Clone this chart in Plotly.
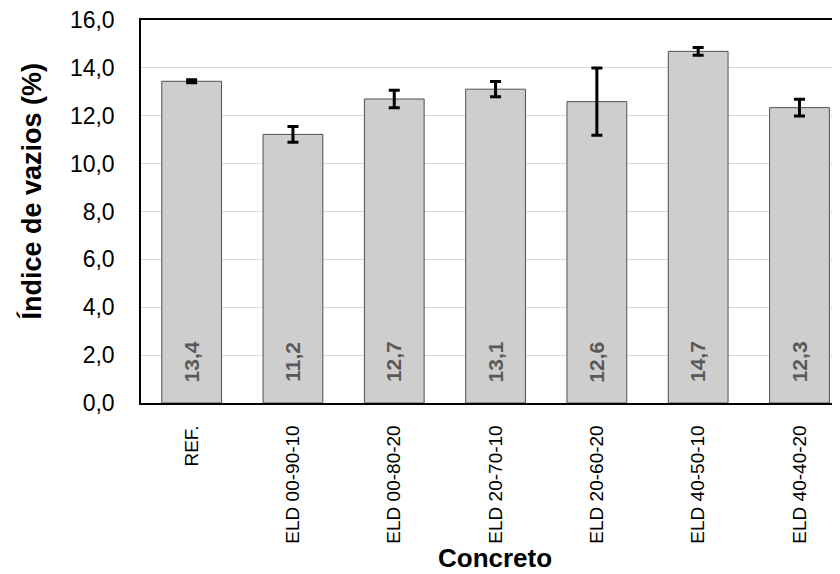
import plotly.graph_objects as go

categories = ["REF.", "ELD 00-90-10", "ELD 00-80-20", "ELD 20-70-10",
              "ELD 20-60-20", "ELD 40-50-10", "ELD 40-40-20"]
values = [13.44, 11.22, 12.70, 13.11, 12.59, 14.69, 12.34]
errors = [0.06, 0.33, 0.37, 0.32, 1.40, 0.16, 0.35]
labels = ["13,4", "11,2", "12,7", "13,1", "12,6", "14,7", "12,3"]
y_ticks = [0, 2, 4, 6, 8, 10, 12, 14, 16]
x_title = "Concreto"
y_title = "Índice de vazios (%)"

FONT = "Liberation Sans, Arial, sans-serif"

fig = go.Figure()
fig.add_trace(go.Bar(
    x=categories, y=values, width=0.59,
    marker=dict(color="#CFCECE", line=dict(color="#505050", width=1)),
    error_y=dict(type="data", array=errors, visible=True,
                 color="black", thickness=3, width=5.5),
    showlegend=False,
))

for c, lab in zip(categories, labels):
    fig.add_annotation(x=c, y=1.72, text=lab, textangle=-90, showarrow=False,
                       font=dict(family=FONT, size=21, color="#595959",
                                 weight="bold"))

# axis titles (placed like the original, slightly off-centre)
fig.add_annotation(xref="paper", yref="paper", x=-0.157, y=0.553,
                   xanchor="center", yanchor="middle", textangle=-90,
                   text=y_title, showarrow=False,
                   font=dict(family=FONT, size=27, color="black", weight="bold"))
fig.add_annotation(xref="paper", yref="paper", x=0.507, y=-0.405,
                   xanchor="center", yanchor="middle",
                   text=x_title, showarrow=False,
                   font=dict(family=FONT, size=26, color="black", weight="bold"))

# page body adds an 8px margin, so the figure is sized/offset to compensate
fig.update_layout(
    width=832, height=566,
    margin=dict(l=133, r=0, t=12, b=171),
    paper_bgcolor="white", plot_bgcolor="white",
    separators=",.",
    font=dict(family=FONT, size=19, color="black"),
    bargap=0.41,
)
fig.update_xaxes(
    range=[-0.5, 6.4], showline=True, linecolor="black", linewidth=1.5,
    mirror=True, tickangle=-90, ticks="", ticklabelstandoff=13,
    tickfont=dict(size=19),
)
fig.update_yaxes(
    range=[0, 16], tickvals=y_ticks, tickformat=".1f",
    showline=True, linecolor="black", linewidth=1.5,
    showgrid=True, gridcolor="#D9D9D9", gridwidth=1,
    ticks="", ticklabelstandoff=20, tickfont=dict(size=23),
    ticklabeloverflow="allow",
    zeroline=False,
)

fig.write_html("out.html")
